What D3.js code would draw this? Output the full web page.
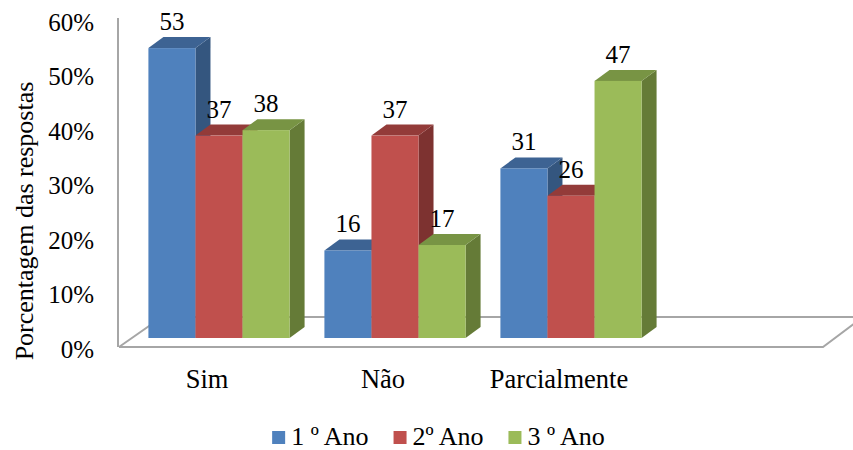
<!DOCTYPE html>
<html>
<head>
<meta charset="utf-8">
<script src="https://cdn.jsdelivr.net/npm/d3@7/dist/d3.min.js"></script>
<style>
  html, body { margin: 0; padding: 0; background: #fff; }
  svg text { font-family: "Liberation Serif", "Times New Roman", Times, "DejaVu Serif", serif; }
</style>
</head>
<body>
<svg id="chart" width="853" height="450"></svg>
<script>
// Survey answers (% of respondents) by school year
const categories = ["Sim", "Não", "Parcialmente"];
const seriesNames = ["1 º Ano", "2º Ano", "3 º Ano"];
const ano1 = [53, 16, 31];
const ano2 = [37, 37, 26];
const ano3 = [38, 17, 47];
const yTicks = [0, 10, 20, 30, 40, 50, 60];

const seriesValues = [ano1, ano2, ano3];
const palette = [
  { front: "#4F81BD", top: "#3D6393", side: "#34567F" },
  { front: "#C0504D", top: "#933B39", side: "#7D3230" },
  { front: "#9BBB59", top: "#789444", side: "#657B37" }
];

const svg = d3.select("#chart");

// 3D frame geometry
const floorFront = 347, floorBack = 317;
const floorLeft = 119, floorRight = 823;
const floorDX = 40;          // horizontal shift of the floor's back edge
const depth = { dx: 15, dy: -11 };   // bar extrusion
const barBase = 338;          // bar plane baseline
const slotCount = categories.length + 1;
const slotWidth = (floorRight - floorLeft) / slotCount;

const x = d3.scaleBand()
  .domain(categories)
  .range([floorLeft, floorLeft + slotWidth * categories.length]);

const xInner = d3.scaleBand()
  .domain(seriesNames)
  .range([0, x.bandwidth()])
  .paddingInner(0)
  .paddingOuter(0.37);

const barShift = 12;

const yBar = d3.scaleLinear().domain([0, 60]).range([barBase, barBase - 60 * 5.47]);
const yAxisScale = d3.scaleLinear().domain([0, 60]).range([349, 22]);

const grey = "#a6a6a6";

// floor back edges
svg.append("path")
  .attr("d", `M${floorLeft},${floorFront} L${floorLeft + floorDX + 3},${floorBack} L${floorRight + floorDX},${floorBack}`)
  .attr("fill", "none").attr("stroke", grey).attr("stroke-width", 2);

// bars
const groups = svg.append("g").selectAll("g")
  .data(categories)
  .join("g");

groups.each(function (cat, ci) {
  const g = d3.select(this);
  seriesNames.forEach((s, si) => {
    const v = seriesValues[si][ci];
    const x0 = x(cat) + xInner(s) + barShift;
    const x1 = x0 + xInner.bandwidth();
    const yt = yBar(v);
    const yb = yBar(0);
    const c = palette[si];
    // side face
    g.append("path")
      .attr("d", `M${x1},${yb} L${x1 + depth.dx},${yb + depth.dy} L${x1 + depth.dx},${yt + depth.dy} L${x1},${yt} Z`)
      .attr("fill", c.side);
    // top face
    g.append("path")
      .attr("d", `M${x0},${yt} L${x0 + depth.dx},${yt + depth.dy} L${x1 + depth.dx},${yt + depth.dy} L${x1},${yt} Z`)
      .attr("fill", c.top);
    // front face
    g.append("rect")
      .attr("x", x0).attr("y", yt)
      .attr("width", x1 - x0).attr("height", yb - yt)
      .attr("fill", c.front);
  });
});

// value labels
groups.each(function (cat, ci) {
  const g = d3.select(this);
  seriesNames.forEach((s, si) => {
    const v = seriesValues[si][ci];
    const x0 = x(cat) + xInner(s) + barShift;
    g.append("text")
      .attr("x", x0 + xInner.bandwidth() / 2)
      .attr("y", yBar(v) - 18)
      .attr("text-anchor", "middle")
      .attr("font-size", 25)
      .attr("fill", "#000")
      .text(v);
  });
});

// floor front edge and right edge
svg.append("path")
  .attr("d", `M${floorLeft},${floorFront} L${floorRight},${floorFront} L${floorRight + floorDX},${floorBack}`)
  .attr("fill", "none").attr("stroke", grey).attr("stroke-width", 2);

// vertical axis line
svg.append("line")
  .attr("x1", 118).attr("x2", 118)
  .attr("y1", 18).attr("y2", floorFront)
  .attr("stroke", grey).attr("stroke-width", 2);

// value axis labels
const yAxis = d3.axisLeft(yAxisScale)
  .tickValues(yTicks)
  .tickFormat(d => d + "%")
  .tickSize(0)
  .tickPadding(0);
const yg = svg.append("g").attr("transform", "translate(94,0)").call(yAxis);
yg.attr("font-family", null);
yg.select(".domain").remove();
yg.selectAll("text")
  .attr("font-size", 25)
  .attr("fill", "#000");

// axis title
svg.append("text")
  .attr("transform", "translate(33,221) rotate(-90)")
  .attr("text-anchor", "middle")
  .attr("font-size", 26)
  .text("Porcentagem das respostas");

// category labels
svg.append("g").selectAll("text")
  .data(categories)
  .join("text")
  .attr("x", d => x(d) + x.bandwidth() / 2)
  .attr("y", 388)
  .attr("text-anchor", "middle")
  .attr("font-size", 26.5)
  .text(d => d);

// legend
const legend = svg.append("g");
let lx = 0;
seriesNames.forEach((s, i) => {
  const item = legend.append("g").attr("transform", `translate(${lx},0)`);
  item.append("rect")
    .attr("x", 0).attr("y", 431)
    .attr("width", 13).attr("height", 13)
    .attr("fill", palette[i].front);
  const t = item.append("text")
    .attr("x", 19).attr("y", 445)
    .attr("font-size", 26)
    .text(s);
  lx += 19 + t.node().getComputedTextLength() + 25;
});
const lw = lx - 25;
legend.attr("transform", `translate(${438.5 - lw / 2},0)`);
</script>
</body>
</html>
